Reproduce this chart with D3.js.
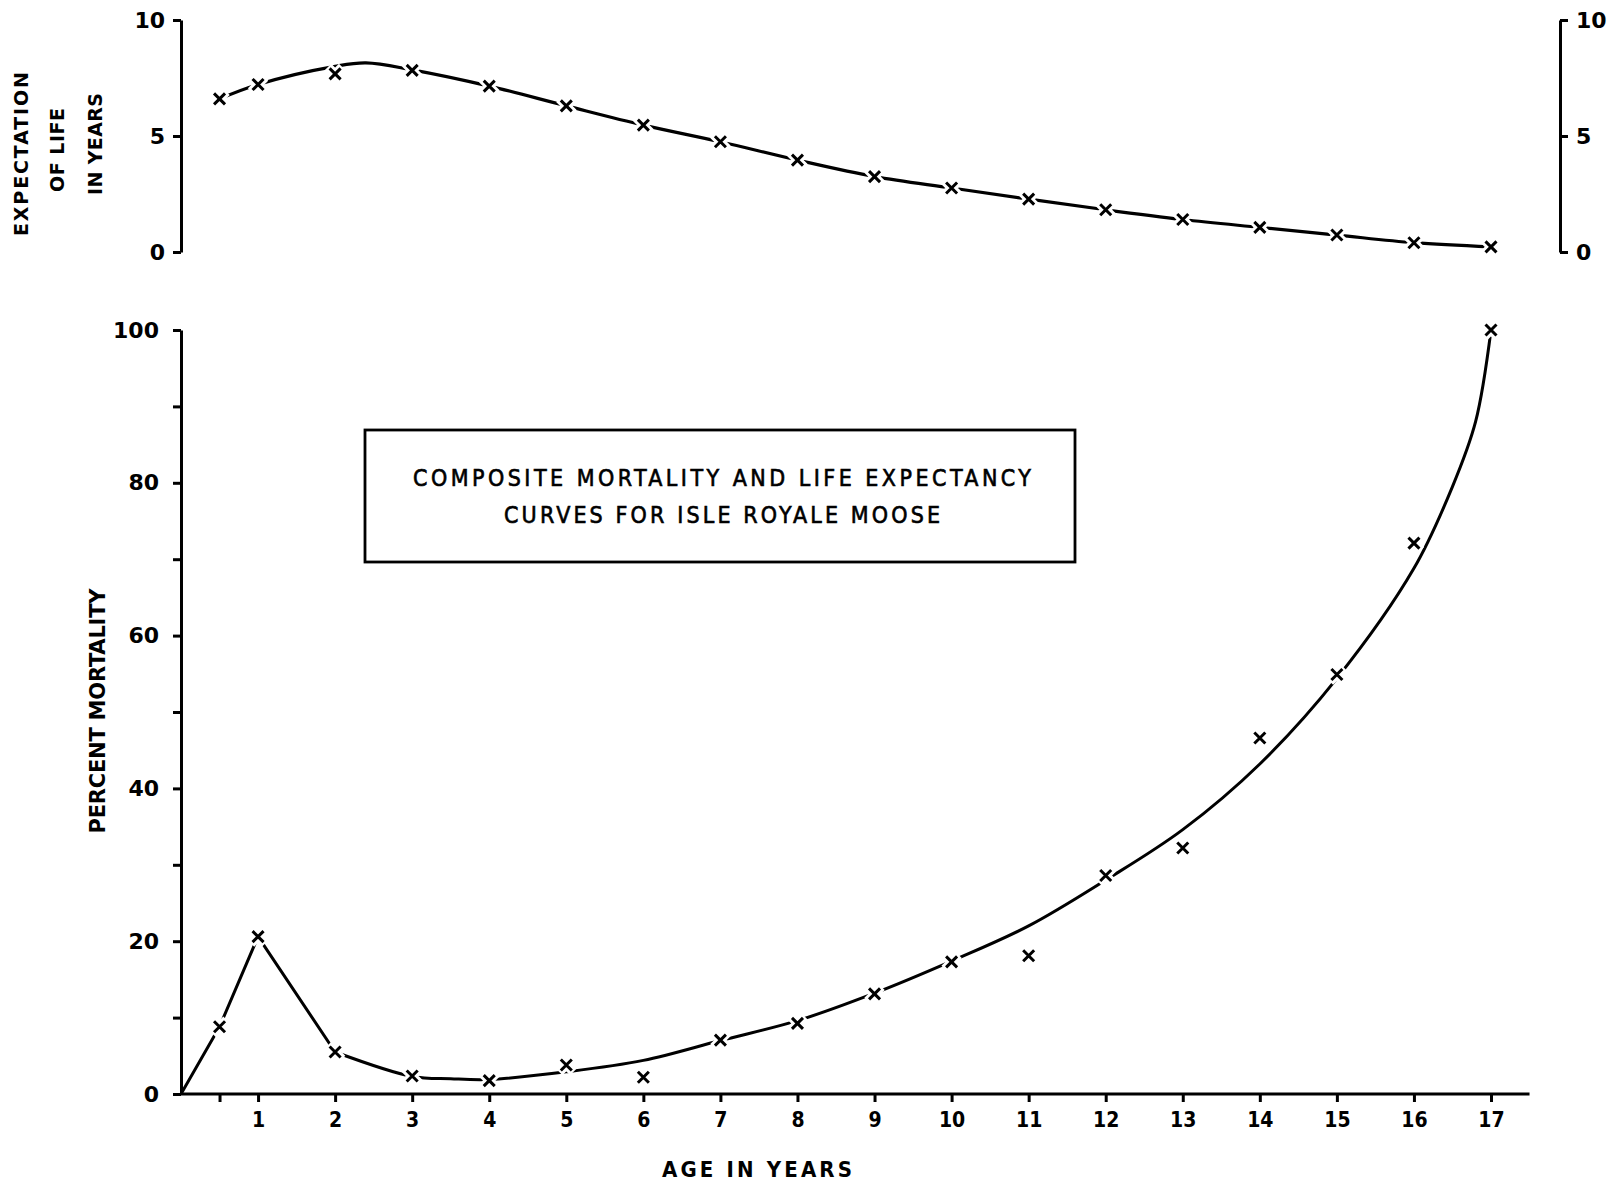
<!DOCTYPE html>
<html>
<head>
<meta charset="utf-8">
<script src="https://cdn.jsdelivr.net/npm/d3@7"></script>
<style>
  body { margin: 0; background: #fff; }
  svg { display: block; background: #fff; }
  .axis path, .axis line { stroke: #000; stroke-width: 3; }
  .axis text { fill: #000; font-family: "DejaVu Sans", sans-serif; font-weight: bold; font-size: 22px; }
  .x.axis text { font-family: "DejaVu Sans Condensed", "DejaVu Sans", sans-serif; font-size: 21px; }
  .label { font-family: "DejaVu Sans", sans-serif; font-weight: bold; fill: #000; }
  .note { font-family: "DejaVu Sans Condensed", "DejaVu Sans", sans-serif; fill: #000; }
</style>
</head>
<body>
<svg id="chart" width="1614" height="1184"></svg>
<script>
let width = 1614;
let height = 1184;

// ages at which points were plotted
let ages = [0.5, 1, 2, 3, 4, 5, 6, 7, 8, 9, 10, 11, 12, 13, 14, 15, 16, 17];

// expectation of life (years), plotted points
let lifeExpectancy = [6.6, 7.22, 7.68, 7.83, 7.15, 6.3, 5.47, 4.75, 3.96, 3.25, 2.76, 2.28, 1.82, 1.4, 1.06, 0.73, 0.4, 0.22];

// percent mortality, plotted points
let mortality = [8.8, 20.6, 5.5, 2.35, 1.75, 3.8, 2.2, 7.05, 9.25, 13.1, 17.3, 18.1, 28.6, 32.2, 46.6, 54.9, 72.1, 100];

// fitted (hand drawn) curves
let lifeCurveAge = [0.5, 1, 2, 2.4, 3, 4, 5, 6, 7, 8, 9, 10, 11, 12, 13, 14, 15, 16, 17];
let lifeCurveValue = [6.6, 7.22, 8.0, 8.15, 7.85, 7.15, 6.3, 5.47, 4.75, 3.96, 3.25, 2.76, 2.28, 1.82, 1.4, 1.06, 0.73, 0.4, 0.22];

let mortCurveAge = [0, 0.5, 1, 2, 3, 3.5, 4, 5, 6, 7, 8, 9, 10, 11, 12, 13, 14, 15, 16, 16.5, 16.8, 17];
let mortCurveValue = [0, 8.8, 20.6, 5.5, 2.3, 2.0, 1.9, 2.9, 4.4, 7.0, 9.6, 13.2, 17.4, 22.0, 28.0, 34.6, 43.2, 54.4, 68.8, 79.5, 88, 100];

// axis ticks
let xTicks = [0.5, 1, 2, 3, 4, 5, 6, 7, 8, 9, 10, 11, 12, 13, 14, 15, 16, 17];
let lifeTicks = [0, 5, 10];
let mortTicks = [0, 10, 20, 30, 40, 50, 60, 70, 80, 90, 100];
let mortLabels = [0, 20, 40, 60, 80, 100];

let titleLines = ["COMPOSITE MORTALITY AND LIFE EXPECTANCY", "CURVES FOR ISLE ROYALE MOOSE"];

let svg = d3.select("#chart");

let x = d3.scaleLinear().domain([0, 17]).range([181, 1491]);
let yTop = d3.scaleLinear().domain([0, 10]).range([252, 20]);
let yBot = d3.scaleLinear().domain([0, 100]).range([1094, 330]);

// ---- axes ----
let xAxis = svg.append("g")
    .attr("class", "x axis")
    .attr("transform", `translate(0,${yBot(0)})`)
    .call(d3.axisBottom(x)
        .tickValues(xTicks)
        .tickSize(8)
        .tickSizeOuter(0)
        .tickPadding(10)
        .tickFormat(d => Number.isInteger(d) ? d : ""))
xAxis.select(".domain").remove()
xAxis.append("line")
    .attr("x1", x(0)).attr("x2", x(17.5))
    .attr("stroke", "#000").attr("stroke-width", 3)

let yBotAxis = svg.append("g")
    .attr("class", "y axis")
    .attr("transform", `translate(${x(0)},0)`)
    .call(d3.axisLeft(yBot)
        .tickValues(mortTicks)
        .tickSize(8)
        .tickSizeOuter(0)
        .tickPadding(14)
        .tickFormat(d => mortLabels.includes(d) ? d : ""))

let yTopAxis = svg.append("g")
    .attr("class", "y axis")
    .attr("transform", `translate(${x(0)},0)`)
    .call(d3.axisLeft(yTop)
        .tickValues(lifeTicks)
        .tickSize(8)
        .tickSizeOuter(0)
        .tickPadding(8))

let yRightAxis = svg.append("g")
    .attr("class", "y axis")
    .attr("transform", `translate(1560,0)`)
    .call(d3.axisRight(yTop)
        .tickValues(lifeTicks)
        .tickSize(8)
        .tickSizeOuter(0)
        .tickPadding(8))

// ---- curves ----
let pts = (xs, ys) => xs.map((a, i) => [a, ys[i]])

let lineTop = d3.line().x(d => x(d[0])).y(d => yTop(d[1])).curve(d3.curveCatmullRom.alpha(0.5))
let lineBotStraight = d3.line().x(d => x(d[0])).y(d => yBot(d[1]))
let lineBotSmooth = d3.line().x(d => x(d[0])).y(d => yBot(d[1])).curve(d3.curveCatmullRom.alpha(0.5))

let mortPts = pts(mortCurveAge, mortCurveValue)

svg.append("path")
    .attr("d", lineTop(pts(lifeCurveAge, lifeCurveValue)))
    .attr("fill", "none").attr("stroke", "#000").attr("stroke-width", 3.2)

svg.append("path")
    .attr("d", lineBotStraight(mortPts.slice(0, 4)))
    .attr("fill", "none").attr("stroke", "#000").attr("stroke-width", 3)
    .attr("stroke-linejoin", "round")

svg.append("path")
    .attr("d", lineBotSmooth(mortPts.slice(3)))
    .attr("fill", "none").attr("stroke", "#000").attr("stroke-width", 3)

// ---- markers ----
function cross(s) {
  return `M${-s},${-s}L${s},${s}M${-s},${s}L${s},${-s}`
}

function drawMarkers(values, yScale) {
  let g = svg.append("g")
  let data = ages.map((a, i) => [a, values[i]])
  g.selectAll("path.halo")
    .data(data)
    .join("path")
    .attr("class", "halo")
    .attr("transform", d => `translate(${x(d[0])},${yScale(d[1])})`)
    .attr("d", cross(7))
    .attr("stroke", "#fff").attr("stroke-width", 9)
  g.selectAll("path.mark")
    .data(data)
    .join("path")
    .attr("class", "mark")
    .attr("transform", d => `translate(${x(d[0])},${yScale(d[1])})`)
    .attr("d", cross(5.5))
    .attr("stroke", "#000").attr("stroke-width", 3)
}

drawMarkers(lifeExpectancy, yTop)
drawMarkers(mortality, yBot)

// ---- labels ----
function vLabel(text, cx, cy, len, size, cls) {
  svg.append("text")
    .attr("class", cls)
    .attr("transform", `translate(${cx},${cy}) rotate(-90)`)
    .attr("text-anchor", "middle")
    .attr("textLength", len)
    .attr("lengthAdjust", "spacing")
    .style("font-size", size + "px")
    .text(text)
}

vLabel("EXPECTATION", 28, 154, 164, 19, "label")
vLabel("OF LIFE", 64, 150, 84, 19, "label")
vLabel("IN YEARS", 102, 144, 102, 19, "label")
vLabel("PERCENT MORTALITY", 105, 711, 245, 21, "label")

svg.append("text")
    .attr("class", "note")
    .attr("x", 757).attr("y", 1177)
    .attr("text-anchor", "middle")
    .attr("textLength", 190)
    .attr("lengthAdjust", "spacing")
    .style("font-size", "22px")
    .style("font-weight", "bold")
    .text("AGE IN YEARS")

// title box
svg.append("rect")
    .attr("x", 365).attr("y", 430)
    .attr("width", 710).attr("height", 132)
    .attr("fill", "none").attr("stroke", "#000").attr("stroke-width", 2.8)

let titleLen = [618, 436]
titleLines.forEach((t, i) => {
  svg.append("text")
    .attr("class", "note")
    .attr("x", 722).attr("y", 486 + i * 37)
    .attr("text-anchor", "middle")
    .attr("textLength", titleLen[i])
    .attr("lengthAdjust", "spacing")
    .style("font-size", "23px")
    .style("stroke", "#000")
    .style("stroke-width", 0.6)
    .text(t)
})
</script>
</body>
</html>
